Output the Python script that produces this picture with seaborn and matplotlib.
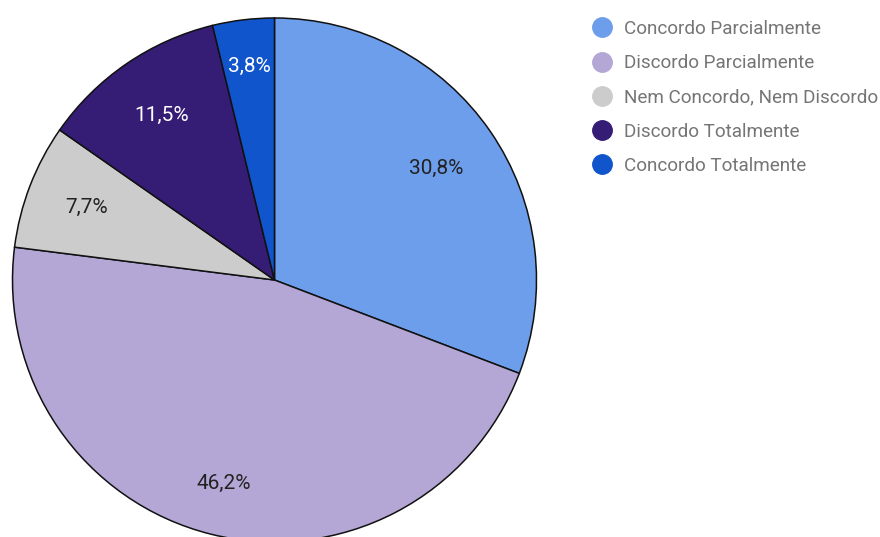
import matplotlib
matplotlib.use("Agg")
import matplotlib.pyplot as plt
import seaborn as sns
import numpy as np
from matplotlib.lines import Line2D

categories = ["Concordo Parcialmente", "Discordo Parcialmente",
              "Nem Concordo, Nem Discordo", "Discordo Totalmente",
              "Concordo Totalmente"]
values = [30.8, 46.2, 7.7, 11.5, 3.8]
labels = ["30,8%", "46,2%", "7,7%", "11,5%", "3,8%"]
colors = ["#6d9eeb", "#b4a7d6", "#cccccc", "#351c75", "#1155cc"]
text_colors = ["#222222", "#222222", "#222222", "#ffffff", "#ffffff"]
label_dist = [0.75, 0.80, 0.77, 0.76, 0.82]

sns.set_theme(style="white")
plt.rcParams['font.family'] = ['Roboto', 'DejaVu Sans']

fig = plt.figure(figsize=(8.8, 5.37), dpi=100)
ax = fig.add_axes([0, 0, 1, 1])
ax.set_xlim(0, 880)
ax.set_ylim(0, 537)
ax.set_aspect('equal')
ax.axis('off')

cx, cy, r = 274.5, 537 - 280, 262
wedges, _ = ax.pie(values, colors=colors, startangle=90, counterclock=False,
                   center=(cx, cy), radius=r,
                   wedgeprops=dict(edgecolor="#111111", linewidth=1.1))
for w, lab, tc, d in zip(wedges, labels, text_colors, label_dist):
    ang = np.deg2rad((w.theta1 + w.theta2) / 2)
    ax.text(cx + d * r * np.cos(ang), cy + d * r * np.sin(ang), lab,
            ha='center', va='center', fontsize=15, color=tc)
ax.set_xlim(0, 880)
ax.set_ylim(0, 537)

handles = [Line2D([0], [0], marker='o', linestyle='none', markersize=14,
                  markerfacecolor=c, markeredgecolor=c) for c in colors]
leg = fig.legend(handles, categories, loc='upper left',
                 bbox_to_anchor=(592.5 / 880, 1 - 20 / 537),
                 bbox_transform=fig.transFigure, frameon=False,
                 fontsize=13.6, labelcolor="#757575", handlelength=1.0,
                 handletextpad=0.66, labelspacing=0.86, borderpad=0,
                 borderaxespad=0)

fig.savefig("out.png", dpi=100)
